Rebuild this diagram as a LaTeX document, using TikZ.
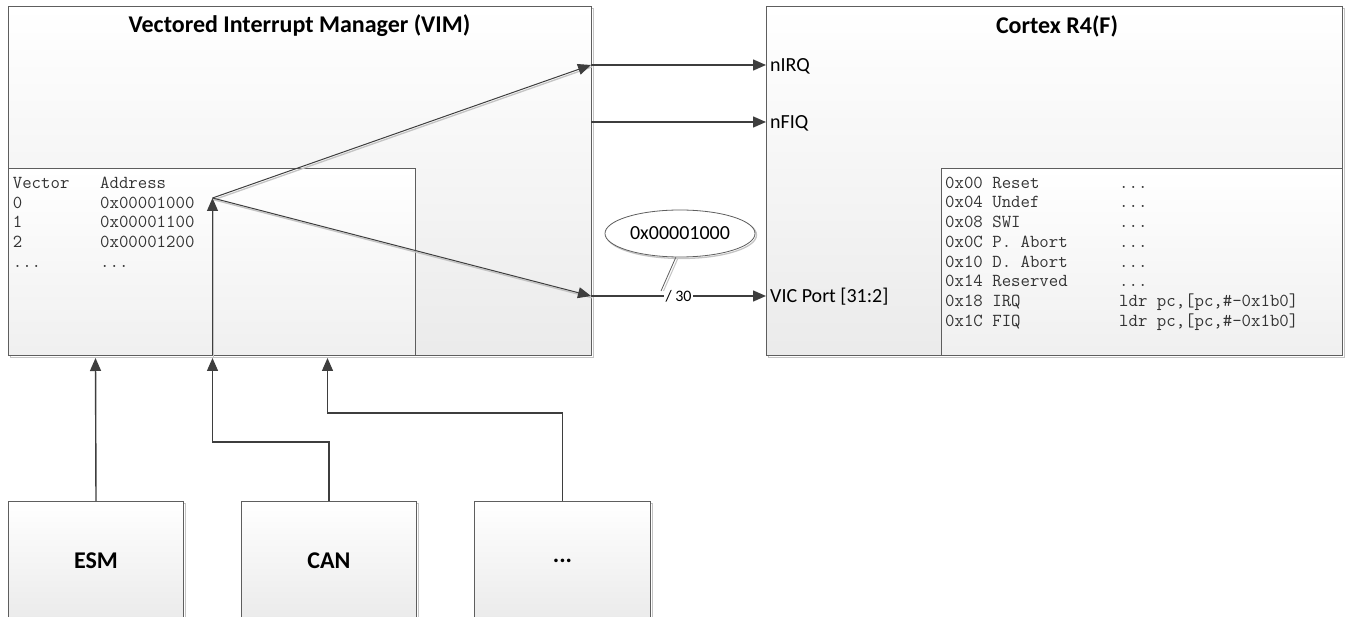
\documentclass[tikz,border=0pt]{standalone}
\usepackage{fontspec}
\setmainfont{Carlito}
\usetikzlibrary{arrows.meta,shapes.geometric}
\definecolor{edgegray}{HTML}{5E5E5E}
\definecolor{wiregray}{HTML}{3E3E3E}
\definecolor{shadowgray}{HTML}{C4C4C4}
\tikzset{
  blockbox/.style={draw=edgegray, line width=1pt, top color=white, bottom color=black!8,
    inner sep=0pt, anchor=north west,
    preaction={draw=shadowgray, line width=1.5pt, transform canvas={shift={(1.8pt,-1.8pt)}}}},
  tablebox/.style={draw=edgegray, line width=1pt, top color=white, bottom color=black!6,
    inner sep=0pt, anchor=north west},
  wirearrow/.style={draw=wiregray, line width=1.4pt, -{Triangle[length=13pt,width=11pt]}},
  shadowwire/.style={wirearrow, line width=1pt, preaction={draw=shadowgray, line width=1.3pt, arrows=-,
    transform canvas={shift={(1.2pt,-1.8pt)}}}},
  titletext/.style={font=\bfseries\fontsize{24}{28}\selectfont},
  porttext/.style={font=\fontsize{20}{24}\selectfont, anchor=base west, inner sep=0pt},
  monotext/.style={font=\ttfamily\fontsize{18.3}{20}\selectfont, anchor=base west, inner sep=0pt, text=black!80},
}
\begin{document}
\begin{tikzpicture}[x=1pt,y=-1pt]
\useasboundingbox (0,0) rectangle (1349,617);
\clip (0,0) rectangle (1349,617);

% main blocks
\node[blockbox, minimum width=583pt, minimum height=349pt] (vim) at (8,6) {};
\node[blockbox, minimum width=576pt, minimum height=349pt] (cortex) at (766,6) {};
\node[tablebox, minimum width=407pt, minimum height=187pt] (vimtab) at (8,168) {};
\node[tablebox, minimum width=401pt, minimum height=187pt] (cortab) at (941,168) {};

\node[titletext] (vimtitle) at (299.5,26) {Vectored Interrupt Manager (VIM)};
\node[titletext] (cortitle) at (1057,26) {Cortex R4(F)};

% source blocks
\node[blockbox, minimum width=175pt, minimum height=119pt, font=\bfseries\fontsize{24}{28}\selectfont] (esm) at (8,501) {ESM};
\node[blockbox, minimum width=175pt, minimum height=119pt, font=\bfseries\fontsize{24}{28}\selectfont] (can) at (241,501) {CAN};
\node[blockbox, minimum width=176pt, minimum height=119pt, font=\bfseries\fontsize{24}{28}\selectfont] (more) at (474,501) {...};

% VIM table text
\node[monotext] (vh1) at (12.7,188.3) {Vector};
\node[monotext] (vh2) at (100,188.3) {Address};
\node[monotext] (va0) at (12.7,208.1) {0};
\node[monotext] (vb0) at (100,208.1) {0x00001000};
\node[monotext] (va1) at (12.7,227.9) {1};
\node[monotext] (vb1) at (100,227.9) {0x00001100};
\node[monotext] (va2) at (12.7,247.7) {2};
\node[monotext] (vb2) at (100,247.7) {0x00001200};
\node[monotext] (va3) at (12.7,267.5) {...};
\node[monotext] (vb3) at (100,267.5) {...};

% Cortex vector table text
\node[monotext] (ca0) at (945,188.3) {0x00 Reset};
\node[monotext] (cb0) at (1119,188.3) {...};
\node[monotext] (ca1) at (945,208.0) {0x04 Undef};
\node[monotext] (cb1) at (1119,208.0) {...};
\node[monotext] (ca2) at (945,227.7) {0x08 SWI};
\node[monotext] (cb2) at (1119,227.7) {...};
\node[monotext] (ca3) at (945,247.4) {0x0C P. Abort};
\node[monotext] (cb3) at (1119,247.4) {...};
\node[monotext] (ca4) at (945,267.1) {0x10 D. Abort};
\node[monotext] (cb4) at (1119,267.1) {...};
\node[monotext] (ca5) at (945,286.8) {0x14 Reserved};
\node[monotext] (cb5) at (1119,286.8) {...};
\node[monotext] (ca6) at (945,306.5) {0x18 IRQ};
\node[monotext] (cb6) at (1119,306.5) {ldr pc,[pc,\#-0x1b0]};
\node[monotext] (ca7) at (945,326.2) {0x1C FIQ};
\node[monotext] (cb7) at (1119,326.2) {ldr pc,[pc,\#-0x1b0]};

% port labels
\node[porttext] (lirq) at (770,72) {nIRQ};
\node[porttext] (lfiq) at (770,129) {nFIQ};
\node[porttext] (lvic) at (770,303) {VIC Port [31:2]};

% connection points
\coordinate (irqsrc) at (591,65);
\coordinate (fiqsrc) at (591,122);
\coordinate (vicsrc) at (591,296);
\coordinate (vtx) at (212.5,198);
\coordinate (vbot) at (212.5,355);
\coordinate (esmin) at (95.5,358);
\coordinate (canin) at (212.5,358);
\coordinate (morein) at (327.5,358);

% inputs from peripherals
\draw[wirearrow] (esm.north) -- (esmin);
\draw[wirearrow] (can.north) -- ++(0,-59) -| (canin);
\draw[wirearrow] (more.north) -- ++(0,-88) -| (morein);

% internal routing
\draw[shadowwire] (vbot) -- (vtx);
\draw[shadowwire] (vtx) -- (irqsrc);
\draw[shadowwire] (vtx) -- (vicsrc);

% outputs to Cortex
\draw[wirearrow] (irqsrc) -- (irqsrc -| cortex.west);
\draw[wirearrow] (fiqsrc) -- (fiqsrc -| cortex.west);
\draw[wirearrow] (vicsrc) -- node[fill=white, inner sep=1.5pt, font=\fontsize{16}{18}\selectfont] (buswidth) {/ 30} (vicsrc -| cortex.west);

% callout
\node[ellipse, draw=edgegray, line width=0.8pt, fill=white, minimum width=150pt, minimum height=47pt,
  inner sep=0pt, font=\fontsize{20}{24}\selectfont,
  preaction={draw=shadowgray, line width=1.3pt, transform canvas={shift={(1.5pt,-1.5pt)}}}] (addr) at (680,233.5) {0x00001000};
\coordinate (calltip) at (661,291);
\draw[edgegray, line width=0.8pt, preaction={draw=shadowgray, line width=1pt, transform canvas={shift={(2.5pt,0pt)}}}] (addr.-100) -- (calltip);
\end{tikzpicture}
\end{document}
